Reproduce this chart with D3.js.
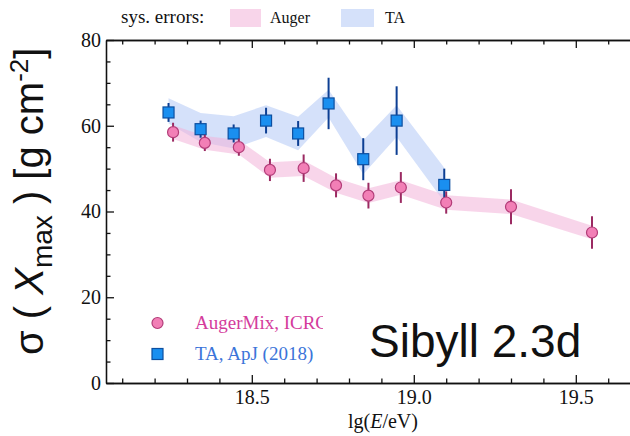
<!DOCTYPE html>
<html>
<head>
<meta charset="utf-8">
<script src="https://cdn.jsdelivr.net/npm/d3@7"></script>
<style>
  body { margin: 0; background: #fff; }
  .tick line, .domain { stroke: #111; stroke-width: 1.3; }
</style>
</head>
<body>
<svg id="chart" width="630" height="436"></svg>
<script>
// Auger (AugerMix, ICRC) points
const augerE   = [18.257, 18.355, 18.46, 18.556, 18.66, 18.76, 18.86, 18.96, 19.10, 19.30, 19.55];
const augerSig = [58.5, 56.0, 55.0, 49.7, 50.1, 46.1, 43.7, 45.6, 42.1, 41.1, 35.1];
const augerErr = [2.2, 1.9, 2.0, 2.6, 3.2, 2.8, 3.0, 3.6, 2.6, 4.1, 3.8];
const augerSys = [1.6, 1.6, 1.7, 1.8, 1.8, 1.7, 1.7, 1.7, 1.7, 1.7, 1.6];

// TA (ApJ 2018) points
const taE     = [18.243, 18.342, 18.444, 18.544, 18.643, 18.737, 18.844, 18.947, 19.094];
const taSig   = [63.1, 59.2, 58.2, 61.2, 58.2, 65.2, 52.2, 61.2, 46.2];
const taErr   = [2.2, 2.0, 2.1, 3.0, 2.9, 6.0, 4.9, 8.0, 3.8];
const taSysUp = [3.3, 3.8, 4.0, 3.6, 3.9, 3.2, 4.4, 3.6, 4.0];
const taSysLo = [2.6, 3.0, 3.5, 3.8, 3.9, 3.3, 3.5, 3.8, 4.0];

// ticks
const xMajor = [18.5, 19.0, 19.5];
const xMinor = [18.1, 18.2, 18.3, 18.4, 18.6, 18.7, 18.8, 18.9, 19.1, 19.2, 19.3, 19.4, 19.6];
const yMajor = [0, 20, 40, 60, 80];
const yMinor = [5, 10, 15, 25, 30, 35, 45, 50, 55, 65, 70, 75];

const svg = d3.select("#chart");
const serif = "'Liberation Serif', 'Times New Roman', serif";
const sans = "'Liberation Sans', Arial, Helvetica, sans-serif";

const padL = 106, padT = 40, padB = 383;
const x = d3.scaleLinear().domain([18.05, 19.7]).range([padL, padL + 1.65 * 324]);
const y = d3.scaleLinear().domain([0, 80]).range([padB, padT]);

// sys bands
const taRows = taE.map((e, i) => ({e, v: taSig[i], err: taErr[i], up: taSysUp[i], lo: taSysLo[i]}));
const augerRows = augerE.map((e, i) => ({e, v: augerSig[i], err: augerErr[i], up: augerSys[i], lo: augerSys[i]}));

const band = d3.area()
  .x(d => x(d.e))
  .y0(d => y(d.v - d.lo))
  .y1(d => y(d.v + d.up));

svg.append("path").datum(taRows)
  .attr("d", band)
  .attr("fill", "#b9cdf6")
  .attr("fill-opacity", 0.6);

svg.append("path").datum(augerRows)
  .attr("d", band)
  .attr("fill", "#f3b3d8")
  .attr("fill-opacity", 0.55);

// axes: ticks pointing inward on all sides
function addAxis(axis, tr, vals, size, labels, pad) {
  const g = svg.append("g").attr("transform", tr)
    .call(axis.tickValues(vals).tickSizeInner(-size).tickSizeOuter(0).tickPadding(pad || 6)
      .tickFormat(labels ? labels : () => ""));
  g.selectAll("text").attr("font-family", serif).attr("font-size", 20).attr("fill", "#111");
  return g;
}
const xRight = x.range()[1];
addAxis(d3.axisBottom(x), `translate(0,${padB})`, xMajor, 8, d3.format(".1f"), 7);
addAxis(d3.axisBottom(x), `translate(0,${padB})`, xMinor, 4.5);
addAxis(d3.axisTop(x), `translate(0,${padT})`, xMajor, 8);
addAxis(d3.axisTop(x), `translate(0,${padT})`, xMinor, 4.5);
addAxis(d3.axisLeft(y), `translate(${padL},0)`, yMajor, 8, d3.format("d"), 5);
addAxis(d3.axisLeft(y), `translate(${padL},0)`, yMinor, 4.5);
addAxis(d3.axisRight(y), `translate(${xRight},0)`, yMajor, 8);
addAxis(d3.axisRight(y), `translate(${xRight},0)`, yMinor, 4.5);

// TA error bars + squares
svg.append("g").selectAll("line").data(taRows).join("line")
  .attr("x1", d => x(d.e)).attr("x2", d => x(d.e))
  .attr("y1", d => y(d.v - d.err)).attr("y2", d => y(d.v + d.err))
  .attr("stroke", "#0d3f93").attr("stroke-width", 2);
svg.append("g").selectAll("rect").data(taRows).join("rect")
  .attr("x", d => x(d.e) - 5.5).attr("y", d => y(d.v) - 5.5)
  .attr("width", 11).attr("height", 11)
  .attr("fill", "#1a8ff0").attr("stroke", "#0d4fa0").attr("stroke-width", 1.2);

// Auger error bars + circles
svg.append("g").selectAll("line").data(augerRows).join("line")
  .attr("x1", d => x(d.e)).attr("x2", d => x(d.e))
  .attr("y1", d => y(d.v - d.err)).attr("y2", d => y(d.v + d.err))
  .attr("stroke", "#9b2a62").attr("stroke-width", 2);
svg.append("g").selectAll("circle").data(augerRows).join("circle")
  .attr("cx", d => x(d.e)).attr("cy", d => y(d.v)).attr("r", 5.5)
  .attr("fill", "#f27fb6").attr("stroke", "#b23c78").attr("stroke-width", 1.2);

// top legend for systematics
svg.append("text").attr("x", 121).attr("y", 23)
  .style("font-family", serif).style("font-size", "19px").attr("fill", "#111")
  .text("sys. errors:");
svg.append("rect").attr("x", 230).attr("y", 9).attr("width", 31).attr("height", 18)
  .attr("fill", "#f3b3d8").attr("fill-opacity", 0.55);
svg.append("text").attr("x", 270).attr("y", 23)
  .style("font-family", serif).style("font-size", "16px").attr("fill", "#111")
  .text("Auger");
svg.append("rect").attr("x", 341).attr("y", 9).attr("width", 33).attr("height", 18)
  .attr("fill", "#b9cdf6").attr("fill-opacity", 0.6);
svg.append("text").attr("x", 385).attr("y", 23)
  .style("font-family", serif).style("font-size", "16px").attr("fill", "#111")
  .text("TA");

// data legend, clipped where the model label sits
svg.append("clipPath").attr("id", "legclip")
  .append("rect").attr("x", 0).attr("y", 290).attr("width", 323).attr("height", 90);
const leg = svg.append("g").attr("clip-path", "url(#legclip)");
leg.append("circle").attr("cx", 157.5).attr("cy", 323).attr("r", 5.5)
  .attr("fill", "#f27fb6").attr("stroke", "#b23c78").attr("stroke-width", 1.2);
leg.append("text").attr("x", 195).attr("y", 329)
  .style("font-family", serif).style("font-size", "19px").attr("fill", "#d43c9c")
  .text("AugerMix, ICRC 2019");
leg.append("rect").attr("x", 152).attr("y", 348.5).attr("width", 11).attr("height", 11)
  .attr("fill", "#1a8ff0").attr("stroke", "#0d4fa0").attr("stroke-width", 1.2);
leg.append("text").attr("x", 195).attr("y", 360)
  .style("font-family", serif).style("font-size", "19px").attr("fill", "#3b74d9")
  .text("TA, ApJ (2018)");

// model label
svg.append("text").attr("x", 369).attr("y", 357)
  .style("font-family", sans).style("font-size", "46px").attr("fill", "#111")
  .text("Sibyll 2.3d");

// x label
const xl = svg.append("text").attr("x", 383).attr("y", 428).attr("text-anchor", "middle")
  .style("font-family", serif).style("font-size", "20px").attr("fill", "#111");
xl.append("tspan").text("lg(");
xl.append("tspan").style("font-style", "italic").text("E");
xl.append("tspan").text("/eV)");

// y label
const yl = svg.append("text").attr("transform", "translate(43,355) rotate(-90)")
  .style("font-family", sans).style("font-size", "40px").attr("fill", "#111");
yl.append("tspan").text("σ ( ");
yl.append("tspan").style("font-style", "italic").text("X");
yl.append("tspan").attr("dy", 9).style("font-size", "28px").text("max");
yl.append("tspan").attr("dy", -9).text(" ) [g cm");
yl.append("tspan").attr("dy", -15).style("font-size", "26px").text("-2");
yl.append("tspan").attr("dy", 15).text("]");
</script>
</body>
</html>
